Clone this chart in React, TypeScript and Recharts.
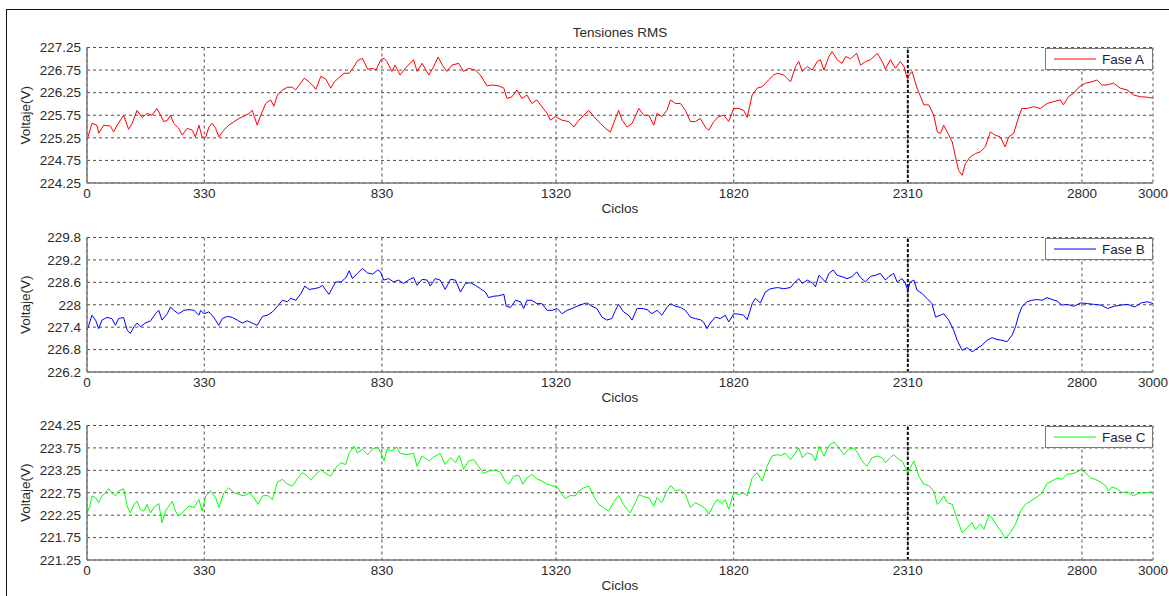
import React from "react";
import { LineChart, Line, XAxis, YAxis, CartesianGrid, ReferenceLine, Legend } from "recharts";

// cycle ticks shared by the three phase plots
const xTicks = [0, 330, 830, 1320, 1820, 2310, 2800, 3000];
const ticksA = [224.25, 224.75, 225.25, 225.75, 226.25, 226.75, 227.25];
const ticksB = [226.2, 226.8, 227.4, 228, 228.6, 229.2, 229.8];
const ticksC = [221.25, 221.75, 222.25, 222.75, 223.25, 223.75, 224.25];

// [cycle, rms volts]
const faseA: [number, number][] = [
  [0, 225.2], [14, 225.57], [28, 225.53], [33, 225.35], [47, 225.53], [66, 225.51], [75, 225.38], [85, 225.53],
  [103, 225.75], [117, 225.44], [127, 225.57], [141, 225.86], [155, 225.7], [169, 225.79], [183, 225.75], [197, 225.9],
  [207, 225.75], [216, 225.61], [226, 225.64], [235, 225.75], [244, 225.57], [258, 225.46], [268, 225.31], [282, 225.46],
  [296, 225.42], [305, 225.27], [315, 225.53], [324, 225.27], [334, 225.26], [343, 225.49], [352, 225.57], [362, 225.46],
  [371, 225.27], [385, 225.42], [399, 225.53], [414, 225.61], [428, 225.68], [442, 225.73], [456, 225.79], [465, 225.86],
  [479, 225.53], [489, 225.75], [503, 226.01], [517, 226.09], [526, 225.95], [536, 226.2], [550, 226.31], [564, 226.37],
  [578, 226.37], [587, 226.31], [602, 226.47], [611, 226.57], [625, 226.49], [639, 226.38], [644, 226.32], [658, 226.61],
  [672, 226.55], [686, 226.35], [696, 226.49], [710, 226.59], [724, 226.68], [738, 226.68], [752, 226.83], [761, 226.96],
  [775, 227.01], [790, 226.77], [804, 226.79], [813, 226.75], [827, 226.98], [836, 227.01], [844, 226.94], [858, 226.72],
  [867, 226.86], [881, 226.64], [896, 226.79], [919, 226.98], [929, 226.72], [943, 226.9], [962, 226.64], [976, 226.83],
  [988, 227.04], [1000, 226.86], [1013, 226.72], [1027, 226.86], [1046, 226.9], [1060, 226.72], [1074, 226.79], [1093, 226.75],
  [1107, 226.64], [1126, 226.4], [1140, 226.42], [1159, 226.4], [1173, 226.35], [1182, 226.12], [1196, 226.16], [1210, 226.31],
  [1224, 226.12], [1238, 226.2], [1252, 226.01], [1266, 226.09], [1280, 225.94], [1295, 225.79], [1304, 225.64], [1318, 225.72],
  [1337, 225.64], [1356, 225.61], [1370, 225.49], [1384, 225.64], [1398, 225.75], [1412, 225.86], [1426, 225.72], [1445, 225.57],
  [1459, 225.46], [1473, 225.38], [1482, 225.57], [1496, 225.86], [1506, 225.64], [1520, 225.49], [1534, 225.57], [1553, 225.9],
  [1567, 225.75], [1581, 225.75], [1595, 225.53], [1604, 225.79], [1618, 225.72], [1632, 225.86], [1642, 226.09], [1656, 226.01],
  [1670, 226.01], [1684, 225.86], [1698, 225.61], [1712, 225.61], [1726, 225.68], [1740, 225.49], [1750, 225.42], [1764, 225.61],
  [1778, 225.72], [1792, 225.75], [1806, 225.61], [1820, 225.9], [1834, 225.9], [1848, 225.86], [1858, 225.7], [1872, 226.2],
  [1886, 226.35], [1900, 226.38], [1918, 226.53], [1932, 226.64], [1943, 226.68], [1961, 226.64], [1980, 226.49], [1994, 226.83],
  [2003, 226.94], [2013, 226.72], [2027, 226.83], [2041, 226.75], [2055, 226.94], [2064, 226.98], [2074, 226.75], [2088, 227.05],
  [2097, 227.16], [2111, 226.98], [2125, 226.9], [2135, 227.05], [2149, 227.0], [2166, 227.12], [2177, 226.86], [2191, 226.94],
  [2205, 226.98], [2224, 227.12], [2238, 226.94], [2247, 226.77], [2261, 226.98], [2275, 226.79], [2289, 226.94], [2299, 226.83],
  [2308, 226.57], [2322, 226.72], [2336, 226.35], [2346, 226.16], [2355, 225.98], [2369, 225.98], [2383, 225.75], [2393, 225.38],
  [2402, 225.35], [2411, 225.53], [2421, 225.38], [2435, 225.16], [2444, 224.83], [2453, 224.53], [2463, 224.42], [2472, 224.68],
  [2486, 224.83], [2500, 224.9], [2514, 224.94], [2528, 225.05], [2542, 225.38], [2556, 225.31], [2570, 225.27], [2584, 225.05],
  [2594, 225.27], [2608, 225.35], [2622, 225.71], [2631, 225.9], [2645, 225.9], [2664, 225.94], [2683, 225.9], [2702, 226.01],
  [2720, 226.05], [2739, 226.09], [2748, 225.98], [2762, 226.16], [2777, 226.24], [2791, 226.37], [2810, 226.46], [2828, 226.49],
  [2842, 226.53], [2856, 226.42], [2870, 226.42], [2889, 226.46], [2908, 226.35], [2927, 226.31], [2945, 226.2], [2964, 226.16],
  [2983, 226.15], [3000, 226.13],
];

const faseB: [number, number][] = [
  [0, 227.32], [5, 227.45], [14, 227.72], [24, 227.59], [33, 227.36], [42, 227.59], [56, 227.66], [70, 227.63],
  [80, 227.45], [89, 227.63], [103, 227.66], [113, 227.32], [122, 227.23], [132, 227.41], [141, 227.51], [150, 227.41],
  [164, 227.51], [179, 227.57], [193, 227.76], [202, 227.85], [211, 227.59], [226, 227.76], [235, 227.94], [244, 227.85],
  [258, 227.76], [273, 227.85], [287, 227.87], [301, 227.85], [315, 227.72], [320, 227.85], [329, 227.76], [343, 227.81],
  [357, 227.66], [371, 227.45], [381, 227.63], [395, 227.69], [409, 227.66], [423, 227.59], [437, 227.51], [451, 227.57],
  [465, 227.51], [479, 227.45], [494, 227.69], [508, 227.72], [522, 227.81], [536, 227.96], [550, 228.12], [564, 228.08],
  [573, 228.17], [588, 228.12], [602, 228.3], [613, 228.5], [625, 228.41], [639, 228.43], [653, 228.46], [663, 228.52],
  [672, 228.39], [681, 228.28], [691, 228.46], [700, 228.61], [715, 228.61], [729, 228.73], [738, 228.91], [747, 228.7],
  [761, 228.84], [775, 228.97], [790, 228.85], [804, 228.82], [818, 228.93], [826, 228.88], [835, 228.66], [849, 228.7],
  [863, 228.61], [877, 228.66], [891, 228.57], [905, 228.66], [919, 228.73], [929, 228.52], [943, 228.68], [957, 228.66],
  [966, 228.5], [980, 228.7], [994, 228.66], [1008, 228.41], [1023, 228.68], [1037, 228.66], [1051, 228.34], [1065, 228.57],
  [1079, 228.59], [1093, 228.52], [1107, 228.43], [1121, 228.34], [1130, 228.19], [1145, 228.23], [1159, 228.24], [1173, 228.28],
  [1180, 227.96], [1192, 227.93], [1206, 228.12], [1220, 228.08], [1229, 227.9], [1238, 228.12], [1252, 228.12], [1266, 228.03],
  [1280, 228.03], [1295, 227.85], [1309, 227.85], [1323, 227.9], [1337, 227.76], [1351, 227.85], [1365, 227.9], [1379, 227.96],
  [1393, 228.01], [1407, 228.05], [1421, 227.96], [1435, 227.9], [1449, 227.67], [1463, 227.59], [1477, 227.63], [1487, 227.85],
  [1496, 228.01], [1510, 227.81], [1524, 227.72], [1534, 227.59], [1548, 227.9], [1562, 227.9], [1576, 227.87], [1590, 227.76],
  [1604, 227.85], [1618, 227.72], [1632, 227.93], [1642, 228.03], [1656, 227.96], [1670, 227.93], [1684, 227.85], [1698, 227.67],
  [1712, 227.63], [1726, 227.6], [1735, 227.54], [1745, 227.36], [1754, 227.51], [1768, 227.67], [1782, 227.63], [1796, 227.72],
  [1806, 227.54], [1820, 227.76], [1834, 227.75], [1848, 227.72], [1858, 227.6], [1872, 228.03], [1881, 228.17], [1895, 228.05],
  [1909, 228.34], [1924, 228.43], [1943, 228.46], [1961, 228.43], [1980, 228.46], [1989, 228.57], [2003, 228.7], [2013, 228.57],
  [2027, 228.66], [2041, 228.59], [2050, 228.48], [2060, 228.79], [2069, 228.7], [2078, 228.61], [2088, 228.84], [2100, 228.93],
  [2111, 228.79], [2125, 228.75], [2139, 228.7], [2153, 228.75], [2166, 228.88], [2177, 228.73], [2191, 228.61], [2205, 228.76],
  [2219, 228.79], [2233, 228.84], [2247, 228.66], [2256, 228.75], [2270, 228.84], [2280, 228.61], [2294, 228.7], [2303, 228.57],
  [2310, 228.39], [2317, 228.61], [2327, 228.66], [2336, 228.39], [2350, 228.3], [2364, 228.17], [2378, 228.03], [2388, 227.67],
  [2402, 227.72], [2411, 227.76], [2425, 227.59], [2439, 227.32], [2449, 227.05], [2463, 226.78], [2477, 226.85], [2491, 226.74],
  [2505, 226.83], [2519, 226.92], [2533, 227.05], [2547, 227.12], [2561, 227.07], [2575, 227.05], [2589, 227.01], [2603, 227.18],
  [2613, 227.41], [2622, 227.72], [2631, 227.94], [2645, 228.08], [2659, 228.12], [2674, 228.14], [2688, 228.12], [2702, 228.19],
  [2716, 228.14], [2730, 228.1], [2744, 227.99], [2758, 228.01], [2777, 227.96], [2797, 228.05], [2816, 228.03], [2835, 228.01],
  [2854, 227.99], [2872, 227.9], [2891, 227.96], [2910, 227.99], [2929, 228.01], [2948, 227.94], [2967, 228.05], [2985, 228.08],
  [3000, 228.03],
];

const faseC: [number, number][] = [
  [0, 222.29], [8, 222.45], [14, 222.68], [24, 222.64], [33, 222.53], [42, 222.68], [52, 222.75], [61, 222.84],
  [70, 222.75], [80, 222.68], [89, 222.79], [103, 222.84], [113, 222.45], [122, 222.3], [132, 222.49], [141, 222.56],
  [150, 222.38], [160, 222.34], [169, 222.49], [179, 222.3], [188, 222.42], [202, 222.51], [211, 222.08], [221, 222.34],
  [230, 222.45], [240, 222.56], [249, 222.34], [258, 222.23], [273, 222.34], [287, 222.45], [301, 222.42], [315, 222.6],
  [324, 222.34], [334, 222.68], [348, 222.79], [362, 222.64], [371, 222.42], [385, 222.75], [399, 222.86], [414, 222.75],
  [428, 222.71], [442, 222.68], [456, 222.75], [470, 222.64], [481, 222.49], [494, 222.68], [508, 222.69], [522, 222.6],
  [536, 222.99], [550, 223.05], [564, 222.94], [578, 222.9], [592, 223.06], [606, 223.2], [620, 223.12], [630, 223.03],
  [644, 223.16], [658, 223.26], [672, 223.18], [686, 223.12], [700, 223.31], [714, 223.42], [728, 223.38], [738, 223.64],
  [752, 223.79], [761, 223.64], [775, 223.72], [790, 223.6], [804, 223.73], [818, 223.77], [827, 223.64], [836, 223.46],
  [844, 223.72], [858, 223.68], [872, 223.77], [881, 223.63], [900, 223.6], [919, 223.63], [929, 223.34], [943, 223.57],
  [962, 223.46], [976, 223.55], [994, 223.63], [1008, 223.38], [1023, 223.53], [1037, 223.42], [1048, 223.58], [1060, 223.27],
  [1074, 223.46], [1088, 223.49], [1102, 223.34], [1116, 223.18], [1130, 223.23], [1149, 223.26], [1163, 223.21], [1177, 223.01],
  [1187, 222.94], [1201, 223.12], [1215, 223.14], [1227, 222.94], [1238, 223.08], [1252, 223.16], [1266, 223.06], [1280, 223.01],
  [1295, 222.94], [1309, 222.91], [1323, 222.88], [1337, 222.71], [1346, 222.62], [1360, 222.69], [1374, 222.68], [1384, 222.79],
  [1398, 222.86], [1412, 222.9], [1426, 222.68], [1440, 222.49], [1454, 222.42], [1468, 222.34], [1482, 222.54], [1496, 222.69],
  [1510, 222.49], [1520, 222.38], [1529, 222.3], [1543, 222.53], [1553, 222.71], [1567, 222.66], [1581, 222.64], [1595, 222.45],
  [1604, 222.64], [1618, 222.53], [1632, 222.79], [1643, 222.91], [1656, 222.79], [1670, 222.82], [1684, 222.71], [1698, 222.42],
  [1712, 222.53], [1726, 222.47], [1740, 222.4], [1750, 222.27], [1764, 222.49], [1773, 222.6], [1787, 222.51], [1796, 222.6],
  [1806, 222.38], [1820, 222.75], [1834, 222.71], [1848, 222.75], [1858, 222.68], [1872, 223.08], [1886, 223.2], [1900, 223.01],
  [1914, 223.34], [1928, 223.57], [1942, 223.6], [1952, 223.58], [1966, 223.63], [1980, 223.49], [1994, 223.64], [2003, 223.75],
  [2013, 223.53], [2027, 223.64], [2041, 223.6], [2050, 223.46], [2060, 223.79], [2074, 223.57], [2083, 223.72], [2092, 223.83],
  [2103, 223.88], [2116, 223.75], [2130, 223.6], [2144, 223.72], [2158, 223.75], [2169, 223.64], [2181, 223.46], [2195, 223.34],
  [2209, 223.53], [2224, 223.57], [2238, 223.53], [2247, 223.42], [2261, 223.53], [2270, 223.6], [2285, 223.49], [2294, 223.46],
  [2303, 223.31], [2310, 223.2], [2317, 223.31], [2327, 223.46], [2341, 223.12], [2355, 222.94], [2369, 222.91], [2383, 222.79],
  [2393, 222.49], [2402, 222.56], [2411, 222.68], [2421, 222.53], [2435, 222.49], [2449, 222.16], [2463, 221.86], [2477, 221.97],
  [2491, 222.08], [2500, 221.93], [2514, 222.05], [2524, 221.93], [2538, 222.25], [2547, 222.19], [2561, 222.01], [2575, 221.86],
  [2584, 221.73], [2599, 221.86], [2613, 222.05], [2627, 222.34], [2641, 222.49], [2655, 222.56], [2674, 222.66], [2688, 222.75],
  [2702, 222.96], [2716, 223.01], [2730, 223.08], [2744, 223.05], [2758, 223.16], [2777, 223.18], [2797, 223.26], [2810, 223.2],
  [2824, 223.08], [2838, 223.05], [2852, 222.99], [2866, 222.91], [2875, 222.79], [2885, 222.88], [2899, 222.84], [2913, 222.75],
  [2927, 222.77], [2945, 222.68], [2960, 222.74], [2978, 222.75], [2997, 222.77],
];

const FONT = '"Liberation Sans", Arial, sans-serif';
const TEXT = "#2b2b2b";
const FRAME = "#7a7a7a";
const W = 1169;

type PanelProps = {
  top: number;
  height: number;
  plotTop: number;
  plotBottom: number;
  series: [number, number][];
  ticks: number[];
  color: string;
  name: string;
};

function Panel({ top, height, plotTop, plotBottom, series, ticks, color, name }: PanelProps) {
  const rows = series.map(([c, v]) => ({ c, v }));
  const xh = 30;
  const margin = { top: plotTop - top, right: 16, left: 25, bottom: top + height - xh - plotBottom };
  const frame = { stroke: FRAME, strokeWidth: 1.5 };
  return (
    <div style={{ position: "absolute", left: 0, top }}>
      <LineChart width={W} height={height} data={rows} margin={margin}>
        <CartesianGrid stroke="#505050" strokeDasharray="3 3" />
        <XAxis
          dataKey="c" type="number" domain={[0, 3000]} ticks={xTicks} interval={0}
          height={xh} tickSize={3} tickMargin={2} tickLine={false} axisLine={frame}
          tick={{ fill: TEXT, fontSize: 13.5 }}
          label={{ value: "Ciclos", position: "insideBottom", offset: 0, fill: TEXT, fontSize: 13.5 }}
        />
        <XAxis xAxisId="top" orientation="top" type="number" domain={[0, 3000]} height={0} tick={false} tickLine={false} axisLine={frame} />
        <YAxis
          type="number" domain={[ticks[0], ticks[ticks.length - 1]]} ticks={ticks} interval={0}
          width={62} tickSize={4} tickMargin={2} tickLine={false} axisLine={frame}
          tick={{ fill: TEXT, fontSize: 13.5 }}
          label={{ value: "Voltaje(V)", angle: -90, position: "insideLeft", offset: 0, style: { textAnchor: "middle", fill: TEXT, fontSize: 13.5 } }}
        />
        <YAxis yAxisId="right" orientation="right" type="number" domain={[ticks[0], ticks[ticks.length - 1]]} width={0} tick={false} tickLine={false} axisLine={frame} />
        <ReferenceLine x={2310} stroke="#111" strokeWidth={2} strokeDasharray="3 2" />
        <Line dataKey="v" type="linear" stroke={color} strokeWidth={1} dot={false} isAnimationActive={false} />
        <Legend
          verticalAlign="middle" layout="horizontal"
          wrapperStyle={{ left: 1045, top: plotTop - top + 0.5, width: 108, height: 22 }}
          content={() => (
            <div style={{ boxSizing: "border-box", width: 108, height: 22, border: `1.5px solid ${FRAME}`, background: "#fff", display: "flex", alignItems: "center", fontFamily: FONT }}>
              <svg width={52} height={20} style={{ display: "block" }}>
                <line x1={8} x2={50} y1={10} y2={10} stroke={color} strokeWidth={1} />
              </svg>
              <span style={{ fontSize: 13.5, color: "#1e1e3a", marginLeft: 4 }}>{name}</span>
            </div>
          )}
        />
      </LineChart>
    </div>
  );
}

export default function App() {
  return (
    <div style={{ position: "absolute", left: 0, top: 0, width: W, height: 596, overflow: "hidden", background: "#fff", fontFamily: FONT }}>
      <div style={{ position: "absolute", left: 6, top: 9, width: 1200, height: 600, borderTop: "1.5px solid #111", borderLeft: "1.5px solid #111" }} />
      <div style={{ position: "absolute", left: 87, top: 25, width: 1066, textAlign: "center", fontSize: 13.5, color: TEXT }}>Tensiones RMS</div>
      <Panel top={0} height={220} plotTop={47.5} plotBottom={183} series={faseA} ticks={ticksA} color="#ff0000" name="Fase A" />
      <Panel top={190} height={220} plotTop={237.5} plotBottom={372} series={faseB} ticks={ticksB} color="#0000ff" name="Fase B" />
      <Panel top={378} height={218} plotTop={425.5} plotBottom={560} series={faseC} ticks={ticksC} color="#00ff00" name="Fase C" />
    </div>
  );
}
